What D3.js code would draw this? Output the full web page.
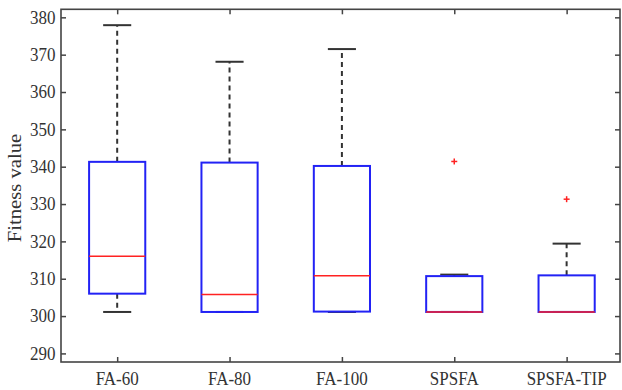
<!DOCTYPE html>
<html>
<head>
<meta charset="utf-8">
<script src="https://cdn.jsdelivr.net/npm/d3@7"></script>
<style>
  html, body { margin: 0; padding: 0; background: #fff; }
  svg { display: block; }
</style>
</head>
<body>
<svg id="chart" width="622" height="390"></svg>
<script>
// ---- data ----
const categories = ["FA-60", "FA-80", "FA-100", "SPSFA", "SPSFA-TIP"];
const lowerWhisker = [301.1, 301.1, 301.1, 301.1, 301.1];
const q1Values     = [306.0, 301.1, 301.2, 301.1, 301.1];
const medianValues = [316.0, 305.8, 310.8, 301.1, 301.1];
const q3Values     = [341.3, 341.1, 340.2, 310.7, 310.9];
const upperWhisker = [377.9, 368.1, 371.5, 311.1, 319.4];
const outliers     = [[], [], [], [341.4], [331.3]];
const yTicks = [290, 300, 310, 320, 330, 340, 350, 360, 370, 380];
const yLabel = "Fitness value";

// ---- layout ----
const svg = d3.select("#chart");
const pLeft = 61, pRight = 620, pTop = 9.3, pBottom = 362;
const FONT = "'Liberation Serif', 'Times New Roman', serif";
const textColor = "#333";
const fs = 17, vStretch = 1.1;

const x = d3.scaleLinear().domain([0.5, 5.475]).range([pLeft, pRight]);
const y = d3.scaleLinear().domain([287.7, 382.15]).range([pBottom, pTop]);

const boxHalf = 0.25, capHalf = 0.125;
const axisColor = "#444";
const tickLen = 5;

const data = categories.map((c, i) => ({
  name: c, pos: i + 1,
  lo: lowerWhisker[i], q1: q1Values[i], med: medianValues[i],
  q3: q3Values[i], hi: upperWhisker[i], out: outliers[i]
}));

const g = svg.append("g");

// whiskers (dashed)
g.selectAll(".wUp").data(data).join("line")
  .attr("x1", d => x(d.pos)).attr("x2", d => x(d.pos))
  .attr("y1", d => y(d.q3)).attr("y2", d => y(d.hi))
  .attr("stroke", "#333").attr("stroke-width", 2).attr("stroke-dasharray", "5,4");
g.selectAll(".wLo").data(data).join("line")
  .attr("x1", d => x(d.pos)).attr("x2", d => x(d.pos))
  .attr("y1", d => y(d.q1)).attr("y2", d => y(d.lo))
  .attr("stroke", "#333").attr("stroke-width", 2).attr("stroke-dasharray", "5,4");
// caps
["hi", "lo"].forEach(k => {
  g.selectAll(".cap" + k).data(data).join("line")
    .attr("x1", d => x(d.pos - capHalf)).attr("x2", d => x(d.pos + capHalf))
    .attr("y1", d => y(d[k])).attr("y2", d => y(d[k]))
    .attr("stroke", "#333").attr("stroke-width", 2);
});
// boxes
g.selectAll(".box").data(data).join("rect")
  .attr("x", d => x(d.pos - boxHalf))
  .attr("width", d => x(d.pos + boxHalf) - x(d.pos - boxHalf))
  .attr("y", d => y(d.q3))
  .attr("height", d => y(d.q1) - y(d.q3))
  .attr("fill", "none").attr("stroke", "#2222f5").attr("stroke-width", 2);
// medians
g.selectAll(".med").data(data).join("line")
  .attr("x1", d => x(d.pos - boxHalf)).attr("x2", d => x(d.pos + boxHalf))
  .attr("y1", d => y(d.med)).attr("y2", d => y(d.med))
  .attr("stroke", "#f22").attr("stroke-width", 1.5);
// outliers (+)
const outPts = data.flatMap(d => d.out.map(v => ({ pos: d.pos, v })));
const plus = g.selectAll(".out").data(outPts).join("g")
  .attr("transform", d => `translate(${x(d.pos)},${y(d.v)})`);
plus.append("line").attr("x1", -3).attr("x2", 3).attr("stroke", "#f22").attr("stroke-width", 1.5);
plus.append("line").attr("y1", -3).attr("y2", 3).attr("stroke", "#f22").attr("stroke-width", 1.5);

// frame
svg.append("rect")
  .attr("x", pLeft).attr("y", pTop).attr("width", pRight - pLeft).attr("height", pBottom - pTop)
  .attr("fill", "none").attr("stroke", axisColor).attr("stroke-width", 1.6);

// axes with inward ticks (labels drawn separately)
function styleAxis(sel) {
  sel.select(".domain").remove();
  sel.selectAll("line").attr("stroke", axisColor).attr("stroke-width", 1.5);
  sel.selectAll("text").remove();
}
const xTickVals = d3.range(1, categories.length + 1);
svg.append("g").attr("transform", `translate(${pLeft},0)`)
  .call(d3.axisLeft(y).tickValues(yTicks).tickSizeInner(-tickLen).tickSizeOuter(0)).call(styleAxis);
svg.append("g").attr("transform", `translate(${pRight},0)`)
  .call(d3.axisRight(y).tickValues(yTicks).tickSizeInner(-tickLen).tickSizeOuter(0)).call(styleAxis);
svg.append("g").attr("transform", `translate(0,${pBottom})`)
  .call(d3.axisBottom(x).tickValues(xTickVals).tickSizeInner(-tickLen).tickSizeOuter(0)).call(styleAxis);
svg.append("g").attr("transform", `translate(0,${pTop})`)
  .call(d3.axisTop(x).tickValues(xTickVals).tickSizeInner(-tickLen).tickSizeOuter(0)).call(styleAxis);

// y tick labels
svg.append("g").selectAll("text").data(yTicks).join("text")
  .attr("transform", d => `translate(55.5,${y(d)}) scale(1,${vStretch})`)
  .attr("dy", "0.34em")
  .attr("text-anchor", "end")
  .attr("font-family", FONT).attr("font-size", fs).attr("fill", textColor)
  .text(d => d);

// x tick labels
svg.append("g").selectAll("text").data(xTickVals).join("text")
  .attr("transform", d => `translate(${x(d)},385.3) scale(1,${vStretch})`)
  .attr("text-anchor", "middle")
  .attr("font-family", FONT).attr("font-size", fs).attr("fill", textColor)
  .text(d => categories[d - 1]);

// y label
svg.append("text")
  .attr("transform", `translate(21,188) rotate(-90) scale(1.15,1)`)
  .attr("text-anchor", "middle")
  .attr("font-family", FONT).attr("font-size", 18).attr("fill", textColor)
  .text(yLabel);
</script>
</body>
</html>
